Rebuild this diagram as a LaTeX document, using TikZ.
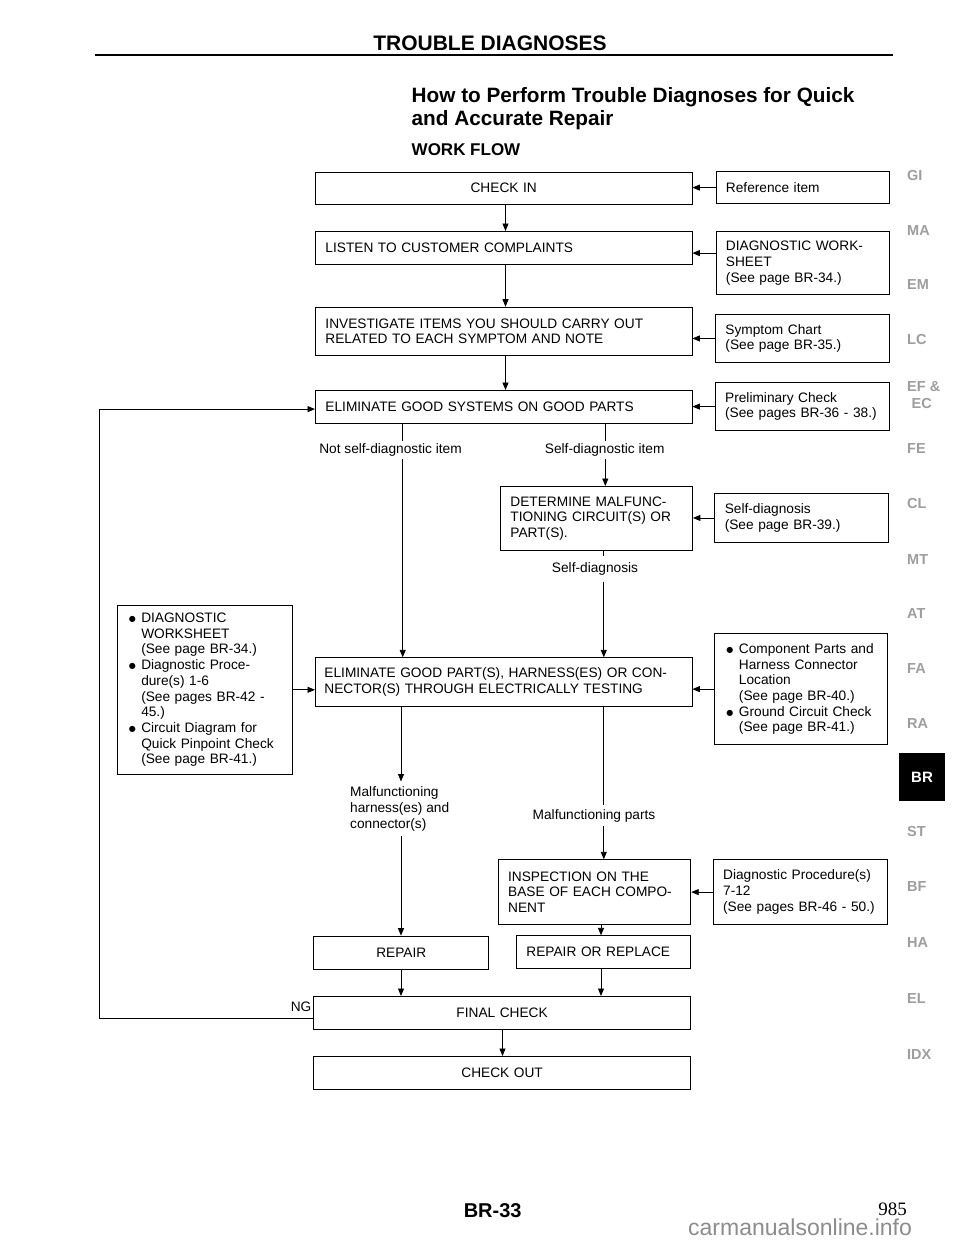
\documentclass[tikz,border=0pt]{standalone}
\usepackage{fontspec}
\setmainfont{Liberation Sans}
\newfontfamily\serifnum{Liberation Serif}
\newfontfamily\dejavu{DejaVu Sans}
\usetikzlibrary{arrows.meta,calc}
\newcommand{\fs}{\fontsize{13.7}{15.7}\selectfont}
\newcommand{\bul}{\makebox[12.5pt][l]{\raisebox{1.2pt}{\dejavu\fontsize{8}{8}\selectfont ●}}}
\newcommand{\ind}{\hspace*{12.5pt}}
\tikzset{
  box/.style={draw, line width=0.9pt, anchor=north west, inner xsep=10pt, inner ysep=0pt, align=left, font=\fs},
  cbox/.style={box, align=center},
  arr/.style={line width=0.9pt, -{Triangle[length=7.5pt,width=6pt]}},
  ln/.style={line width=0.9pt},
  lbl/.style={font=\fs, inner xsep=1pt, inner ysep=2.5pt},
  tab/.style={font=\bfseries\fontsize{14.5}{15}\selectfont, text=black!38, anchor=west, inner sep=0pt},
}
\begin{document}
\begin{tikzpicture}[x=1pt,y=-1pt]
\fill[white] (0,0) rectangle (960,1242);
\useasboundingbox (0,0) rectangle (960,1242);

% ---- header ----
\node[font=\bfseries\fontsize{21}{23}\selectfont, anchor=base, inner sep=0pt] (hdr) at (490,50.2) {TROUBLE DIAGNOSES};
\draw[line width=2.6pt] (95,54.8) -- (893,54.8);
\node[font=\bfseries\fontsize{20.75}{22.7}\selectfont, anchor=base west, inner sep=0pt] (t1) at (411.5,102.4) {How to Perform Trouble Diagnoses for Quick};
\node[font=\bfseries\fontsize{20.75}{22.7}\selectfont, anchor=base west, inner sep=0pt] (t2) at (411.5,125.1) {and Accurate Repair};
\node[font=\bfseries\fontsize{17}{19}\selectfont, anchor=base west, inner sep=0pt] (t3) at (411.5,155.3) {WORK FLOW};

% ---- main column ----
\node[cbox, minimum width=376.5pt, minimum height=32.5pt, text width=356.5pt] (checkin) at (315,171.5) {CHECK IN};
\node[box, minimum width=376.5pt, minimum height=33pt, text width=356.5pt] (listen) at (315,231) {LISTEN TO CUSTOMER COMPLAINTS};
\node[box, minimum width=376.5pt, minimum height=48.3pt, text width=356.5pt] (invest) at (315,306.7) {INVESTIGATE ITEMS YOU SHOULD CARRY OUT\\RELATED TO EACH SYMPTOM AND NOTE};
\node[box, minimum width=376.5pt, minimum height=32.7pt, text width=356.5pt] (elim1) at (315,390) {ELIMINATE GOOD SYSTEMS ON GOOD PARTS};
\node[box, inner xsep=9pt, minimum width=376.5pt, minimum height=48.7pt, text width=358.5pt] (elim2) at (315,657.3) {ELIMINATE GOOD PART(S), HARNESS(ES) OR CON-\\NECTOR(S) THROUGH ELECTRICALLY TESTING};
\node[box, minimum width=192pt, minimum height=64pt, text width=172pt] (determ) at (500,486) {DETERMINE MALFUNC-\\TIONING CIRCUIT(S) OR\\PART(S).};
\node[box, minimum width=192.6pt, minimum height=64.7pt, text width=172.6pt] (inspect) at (497.7,859.3) {INSPECTION ON THE\\BASE OF EACH COMPO-\\NENT};
\node[cbox, minimum width=175pt, minimum height=33pt, text width=155pt] (repair) at (313.3,935.7) {REPAIR};
\node[box, minimum width=174pt, minimum height=33pt, text width=154pt] (ror) at (516,935.3) {REPAIR OR REPLACE};
\node[cbox, minimum width=376.7pt, minimum height=32.7pt, text width=356.7pt] (final) at (313.3,996) {FINAL CHECK};
\node[cbox, minimum width=376.7pt, minimum height=32.7pt, text width=356.7pt] (checkout) at (313.3,1056) {CHECK OUT};

% ---- reference column ----
\node[box, minimum width=173.5pt, minimum height=32.3pt, text width=153.5pt] (ref) at (715.5,171) {Reference item};
\node[box, minimum width=173pt, minimum height=63.3pt, text width=153pt] (dws) at (715.5,231) {DIAGNOSTIC WORK-\\SHEET\\(See page BR-34.)};
\node[box, minimum width=173.5pt, minimum height=48pt, text width=153.5pt] (symp) at (715,314) {Symptom Chart\\(See page BR-35.)};
\node[box, minimum width=173.8pt, minimum height=47.7pt, text width=153.8pt] (prelim) at (714.7,382.3) {Preliminary Check\\(See pages BR-36 - 38.)};
\node[box, minimum width=173.4pt, minimum height=48.4pt, text width=153.4pt] (selfd) at (714.3,493.3) {Self-diagnosis\\(See page BR-39.)};
\node[box, inner xsep=12pt, minimum width=173.3pt, minimum height=110.7pt, text width=149.3pt] (comp) at (714,633.3) {\bul Component Parts and\\\ind Harness Connector\\\ind Location\\\ind (See page BR-40.)\\\bul Ground Circuit Check\\\ind (See page BR-41.)};
\node[box, minimum width=174pt, minimum height=64.7pt, text width=154pt] (diagproc) at (712.7,859.3) {Diagnostic Procedure(s)\\7-12\\(See pages BR-46 - 50.)};

% ---- left box ----
\node[box, inner xsep=11pt, minimum width=174.4pt, minimum height=169.3pt, text width=152.4pt] (leftbox) at (117.3,604.7) {\bul DIAGNOSTIC\\\ind WORKSHEET\\\ind (See page BR-34.)\\\bul Diagnostic Proce-\\\ind dure(s) 1-6\\\ind (See pages BR-42 -\\\ind 45.)\\\bul Circuit Diagram for\\\ind Quick Pinpoint Check\\\ind (See page BR-41.)};

% ---- labels on connectors ----
\node[lbl] (nsd) at (390.5,449.7) {Not self-diagnostic item};
\node[lbl] (sdi) at (604.7,449.7) {Self-diagnostic item};
\node[lbl, inner ysep=6pt] (sdg) at (595,569) {Self-diagnosis};
\node[lbl, inner ysep=4pt] (mpt) at (594,815.5) {Malfunctioning parts};
\node[lbl, align=left, anchor=north west, inner xsep=0pt, inner ysep=5pt] (mhc) at (350,781.5) {Malfunctioning\\harness(es) and\\connector(s)};
\node[lbl, anchor=east, inner sep=1pt] (ngl) at (312.5,1007) {NG};

% ---- column coordinates ----
\coordinate (xm) at (505.5,0);
\coordinate (xa) at (402.7,0);
\coordinate (xb) at (605.3,0);
\coordinate (xc) at (401,0);
\coordinate (xd) at (603.8,0);
\coordinate (xe) at (601,0);
\coordinate (xf) at (502.5,0);
\coordinate (xl) at (99.3,0);
\coordinate (dwsin) at ([yshift=10pt]dws.west);
\coordinate (ngout) at ([yshift=-6pt]final.west);
\coordinate (fbin) at ([yshift=-2.3pt]elim1.west);

% ---- main connectors ----
\draw[arr] (checkin.south -| xm) -- (listen.north -| xm);
\draw[arr] (listen.south -| xm) -- (invest.north -| xm);
\draw[arr] (invest.south -| xm) -- (elim1.north -| xm);
\draw[ln] (elim1.south -| xa) -- (nsd.north -| xa);
\draw[arr] (nsd.south -| xa) -- (elim2.north -| xa);
\draw[ln] (elim1.south -| xb) -- (sdi.north -| xb);
\draw[arr] (sdi.south -| xb) -- (determ.north -| xb);
\draw[ln] (determ.south -| xd) -- (sdg.north -| xd);
\draw[arr] (sdg.south -| xd) -- (elim2.north -| xd);
\draw[arr] (elim2.south -| xc) -- (mhc.north -| xc);
\draw[arr] (mhc.south -| xc) -- (repair.north -| xc);
\draw[ln] (elim2.south -| xd) -- (mpt.north -| xd);
\draw[arr] (mpt.south -| xd) -- (inspect.north -| xd);
\draw[arr] (inspect.south -| xe) -- (ror.north -| xe);
\draw[arr] (repair.south -| xc) -- (final.north -| xc);
\draw[arr] (ror.south -| xe) -- (final.north -| xe);
\draw[arr] (final.south -| xf) -- (checkout.north -| xf);

% ---- side references ----
\draw[arr] (ref.west) -- (ref.west -| checkin.east);
\draw[arr] (dwsin) -- (dwsin -| listen.east);
\draw[arr] (symp.west) -- (symp.west -| invest.east);
\draw[arr] (prelim.west) -- (prelim.west -| elim1.east);
\draw[arr] (selfd.west) -- (selfd.west -| determ.east);
\draw[arr] (comp.west) -- (comp.west -| elim2.east);
\draw[arr] (diagproc.west) -- (diagproc.west -| inspect.east);
\draw[arr] (leftbox.east) -- (leftbox.east -| elim2.west);

% ---- NG feedback ----
\draw[arr] (ngout) -- (ngout -| xl) |- (fbin);

% ---- side tabs ----
\node[tab] (tGI) at (907,176) {GI};
\node[tab] (tMA) at (907,231) {MA};
\node[tab] (tEM) at (907,285) {EM};
\node[tab] (tLC) at (907,340) {LC};
\node[tab] (tEF) at (907,386.7) {EF \&};
\node[tab] (tEC) at (911.5,403.3) {EC};
\node[tab] (tFE) at (907,448.7) {FE};
\node[tab] (tCL) at (907,503.3) {CL};
\node[tab] (tMT) at (907,559.3) {MT};
\node[tab] (tAT) at (907,613.3) {AT};
\node[tab] (tFA) at (907,668.3) {FA};
\node[tab] (tRA) at (907,723.3) {RA};
\node[fill=black, text=white, font=\bfseries\fontsize{15}{16}\selectfont, minimum width=46pt, minimum height=47.4pt, inner sep=0pt] (tBR) at (922,777) {BR};
\node[tab] (tST) at (907,831.7) {ST};
\node[tab] (tBF) at (907,886.7) {BF};
\node[tab] (tHA) at (907,942.7) {HA};
\node[tab] (tEL) at (907,998.3) {EL};
\node[tab] (tIDX) at (907,1054) {IDX};

% ---- footer ----
\node[font=\bfseries\fontsize{20}{21}\selectfont, anchor=base, inner sep=0pt] (pg) at (492.7,1217) {BR-33};
\node[font=\serifnum\fontsize{19}{20}\selectfont, anchor=base, inner sep=0pt] (pn) at (892.5,1215) {985};
\node[font=\fontsize{23}{25}\selectfont, text=black!45, anchor=base west, inner sep=0pt] (wm) at (688,1235.5) {carmanualsonline.info};
\end{tikzpicture}
\end{document}
